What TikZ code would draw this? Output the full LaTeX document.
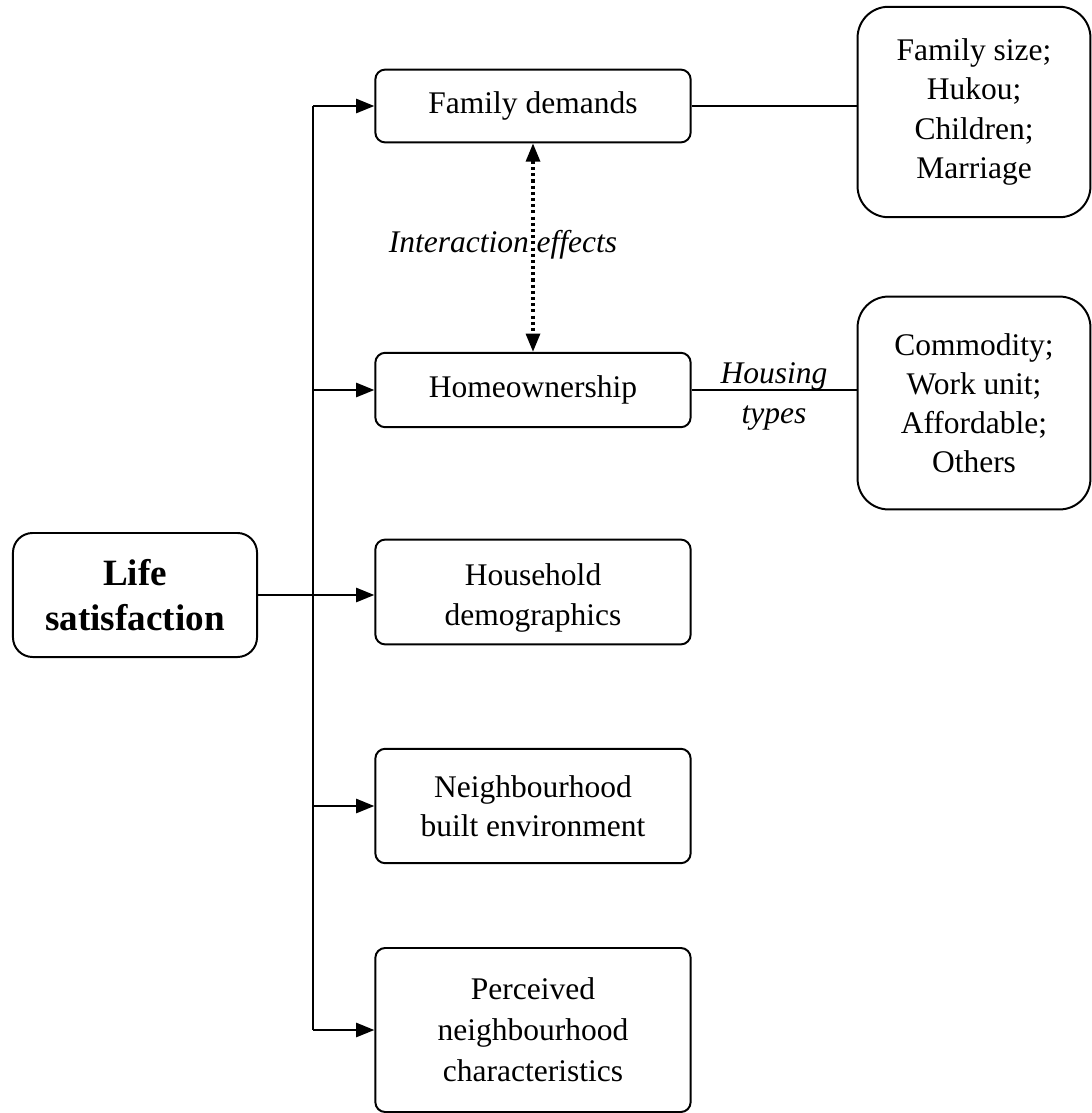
\documentclass[tikz,border=0pt]{standalone}
\usepackage{fontspec}
\setmainfont{Liberation Serif}
\usetikzlibrary{arrows.meta,positioning}

\begin{document}
\begin{tikzpicture}[x=0.0125cm, y=-0.0125cm,
    every node/.style={font=\fontsize{11.2}{13.9}\selectfont, align=center},
    box/.style={draw, line width=0.7pt, rounded corners=3.5pt, minimum width=3.94cm, inner sep=0pt},
    sidebox/.style={draw, line width=0.7pt, rounded corners=11pt, minimum width=2.91cm, inner sep=0pt},
    arr/.style={-{Triangle[length=6.5pt,width=5pt]}, line width=0.9pt},
    link/.style={line width=0.7pt}]
    \useasboundingbox (0,0) rectangle (1092,1113);

    \node [draw, line width=0.7pt, rounded corners=7pt, minimum width=3.05cm, minimum height=1.55cm,
           font=\bfseries\fontsize{13.2}{16}\selectfont] (life) at (135,595) {Life\\satisfaction};

    \node [box, minimum height=0.91cm] (fam) at (533,106) {Family demands};
    \node [box, minimum height=0.93cm] (own) at (533,390) {Homeownership};
    \node [box, minimum height=1.31cm] (house) at (533,592) {\rule{0pt}{12pt}Household\\demographics};
    \node [box, minimum height=1.43cm] (neigh) at (533,806) {Neighbourhood\\built environment};
    \node [box, minimum height=2.05cm, font=\fontsize{11.2}{14.6}\selectfont] (perc) at (533,1030) {Perceived\\neighbourhood\\characteristics};

    \node [sidebox, minimum height=2.63cm] (size) at (974,112) {Family size;\\Hukou;\\Children;\\Marriage};
    \node [sidebox, minimum height=2.66cm] (types) at (974,403) {Commodity;\\Work unit;\\Affordable;\\Others};

    \coordinate (trunk) at (313,0);
    \draw [line width=0.9pt] (fam.west -| trunk) -- (perc.west -| trunk);
    \foreach \n in {fam,own,neigh,perc}
        \draw [arr] (\n.west -| trunk) -- (\n.west);
    \draw [arr] (life.east) -- (house.west |- life.east);

    \draw [link] (fam.east) -- (fam.east -| size.west);
    \draw [link] (own.east) -- (own.east -| types.west);
    \node [font=\itshape\fontsize{11.2}{13.9}\selectfont, anchor=base] (htop) at (774,383) {Housing};
    \node [font=\itshape\fontsize{11.2}{13.9}\selectfont, anchor=base] (hbot) at (774,423) {types};

    \draw [{Triangle[length=6.5pt,width=5pt]}-{Triangle[length=6.5pt,width=5pt]}, line width=1.1pt,
           dash pattern=on 1.1pt off 1.1pt] (fam.south) -- (own.north);
    \node [font=\itshape\fontsize{11.2}{13.9}\selectfont] (inter) at (503,245) {Interaction effects};
\end{tikzpicture}
\end{document}
